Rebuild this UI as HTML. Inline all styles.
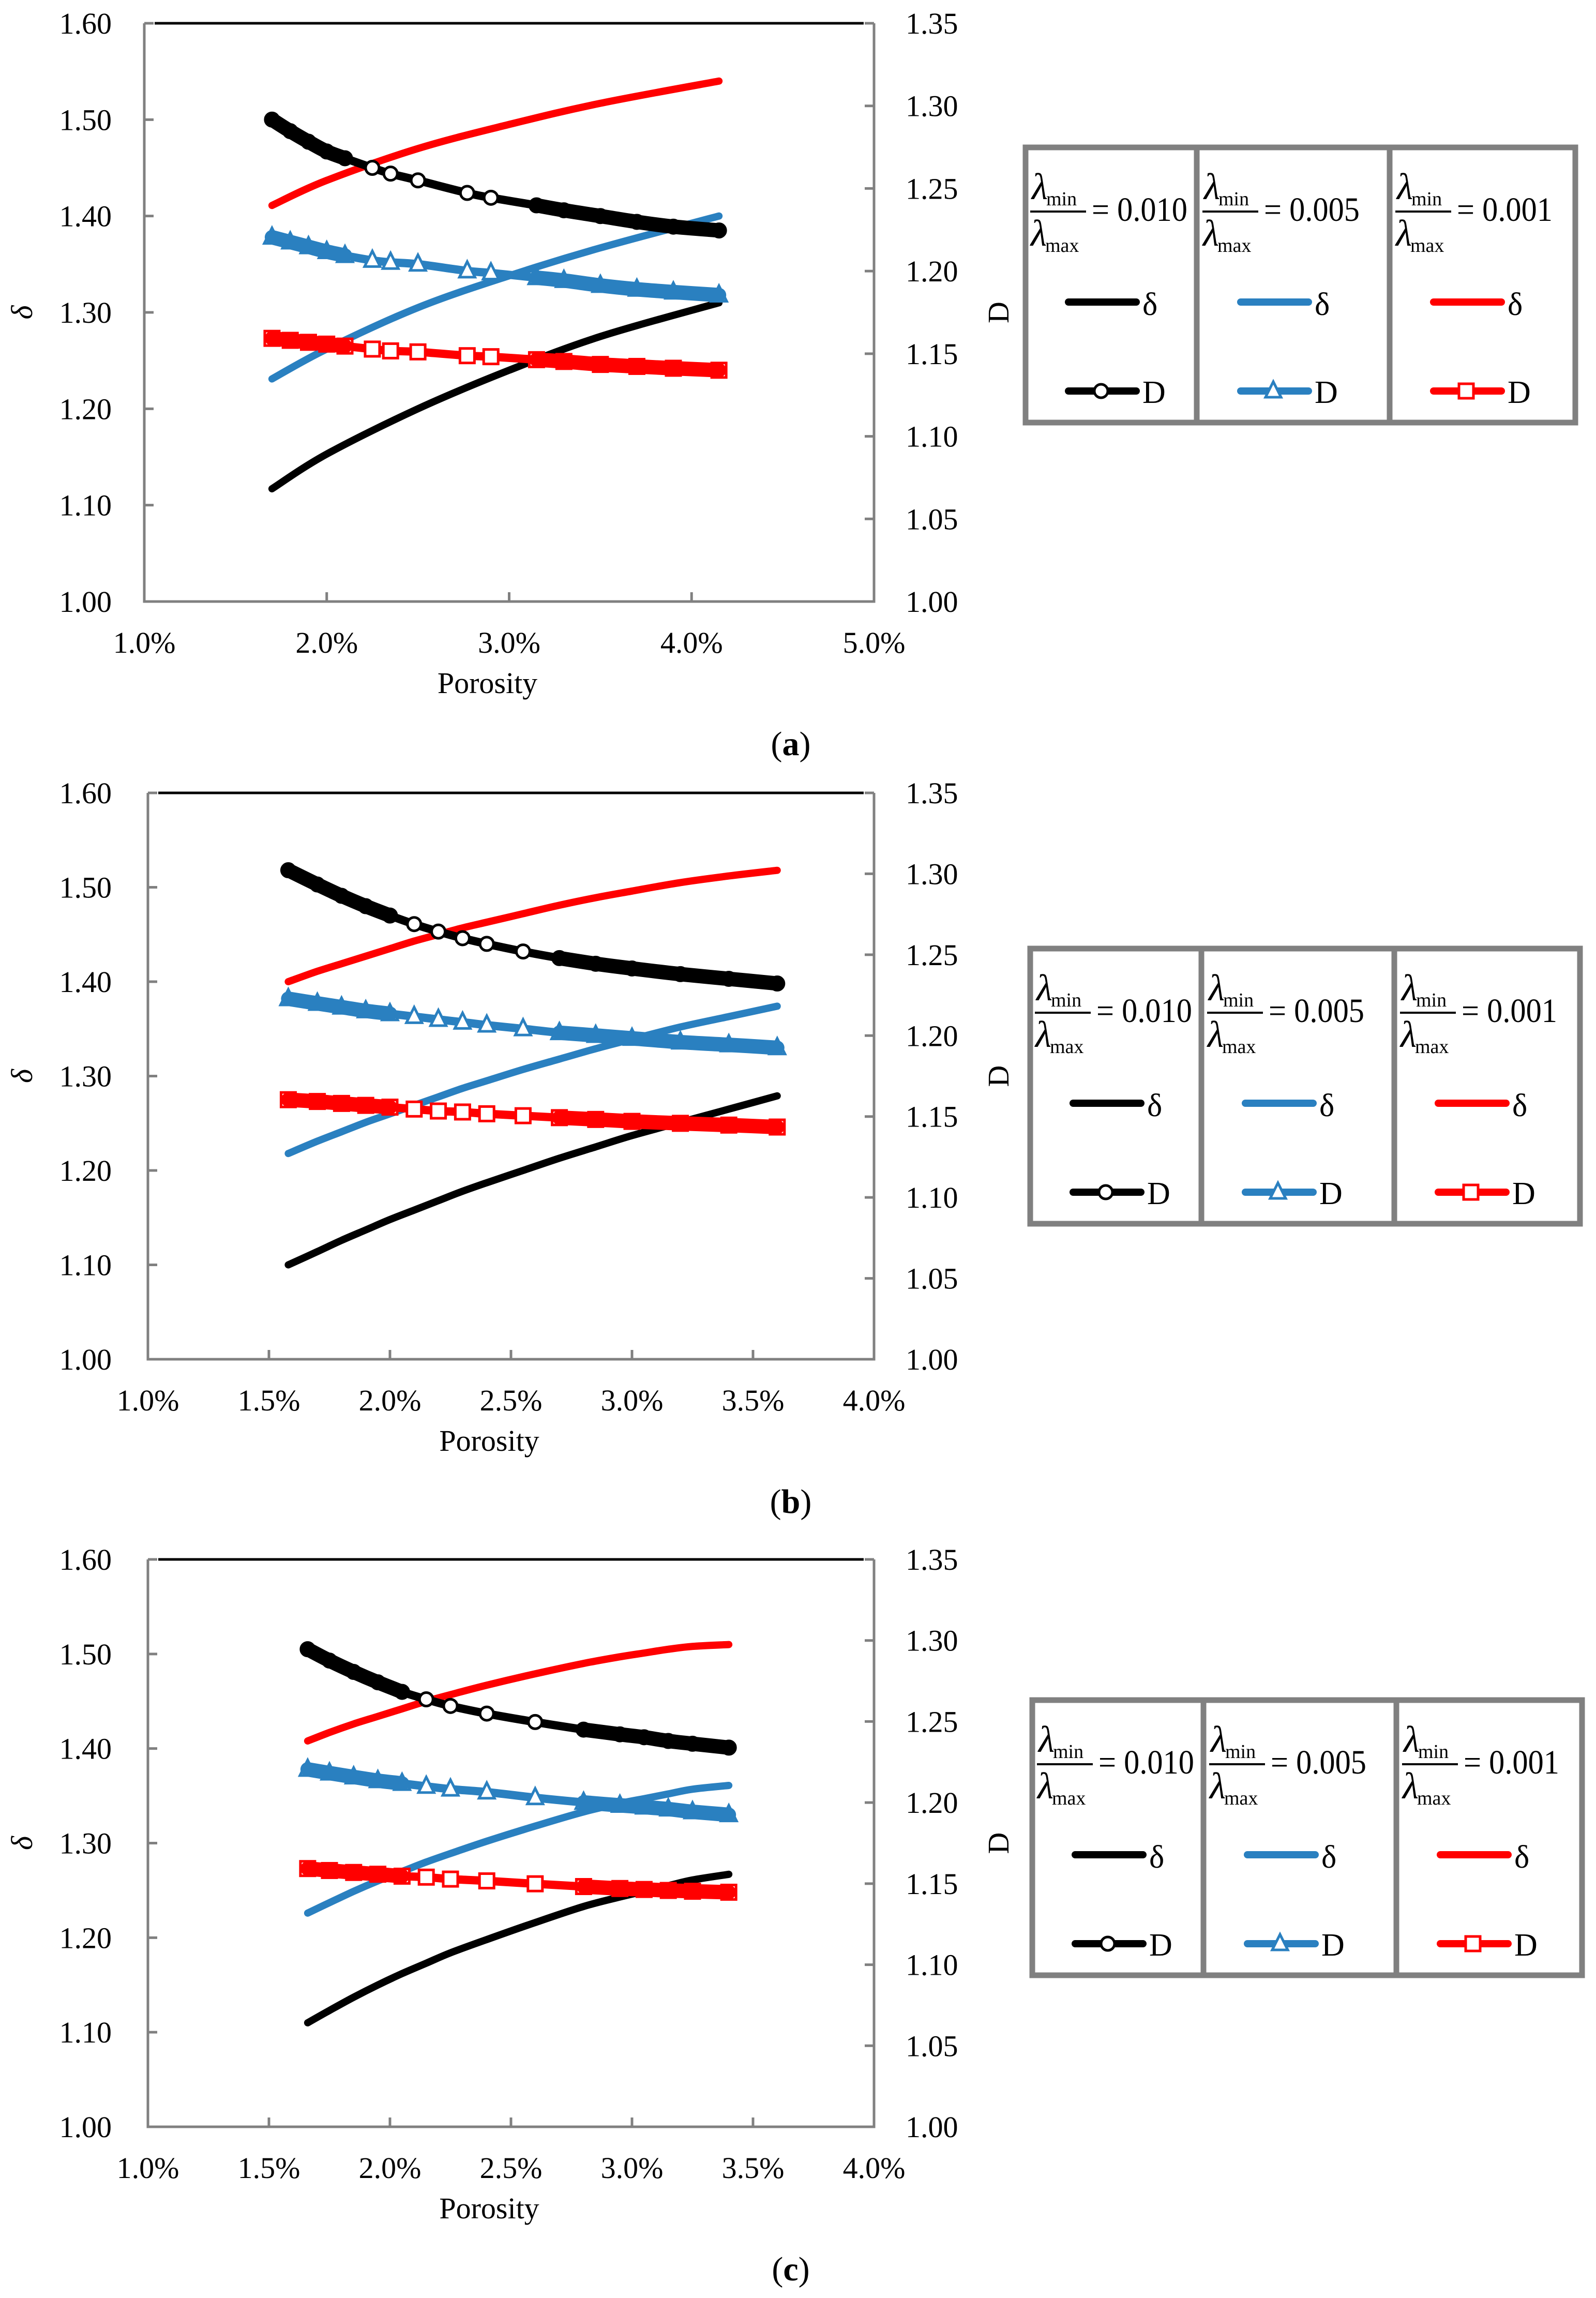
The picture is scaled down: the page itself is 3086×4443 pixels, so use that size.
<!DOCTYPE html>
<html><head><meta charset="utf-8">
<style>
html,body{margin:0;padding:0;background:#fff;}
svg{display:block;font-family:"Liberation Serif",serif;}
</style></head>
<body>
<svg id="fig" width="3086" height="4443" viewBox="0 0 3086 4443" xmlns="http://www.w3.org/2000/svg"></svg>
<script>
// ---------- Panel (a) data ----------
const xA_delta = [1.7, 2.0, 2.5, 3.0, 3.5, 4.15];
const a_delta_black = [1.117, 1.153, 1.200, 1.240, 1.275, 1.310];
const a_delta_blue  = [1.231, 1.262, 1.305, 1.338, 1.367, 1.400];
const a_delta_red   = [1.411, 1.437, 1.470, 1.495, 1.517, 1.540];
const xA_D = [1.7,1.8,1.9,2.0,2.1,2.25,2.35,2.5,2.77,2.9,3.15,3.3,3.5,3.7,3.9,4.15];
const a_D_black = [1.2917,1.2847,1.2783,1.2724,1.2683,1.2625,1.2590,1.2549,1.2473,1.2444,1.2398,1.2368,1.2333,1.2298,1.2269,1.2246];
const a_D_blue  = [1.2205,1.2176,1.2147,1.2118,1.2094,1.2065,1.2053,1.2042,1.2001,1.1989,1.1960,1.1943,1.1913,1.1890,1.1873,1.1855];
const a_D_red   = [1.1593,1.1581,1.1569,1.1558,1.1546,1.1528,1.1517,1.1511,1.1488,1.1482,1.1464,1.1453,1.1435,1.1423,1.1412,1.1400];
const a_xticks = [1.0, 2.0, 3.0, 4.0, 5.0];
const a_xlabels = ["1.0%","2.0%","3.0%","4.0%","5.0%"];

// ---------- Panel (b) data ----------
const xB = [1.58,1.7,1.8,1.9,2.0,2.1,2.2,2.3,2.4,2.55,2.7,2.85,3.0,3.2,3.4,3.6];
const b_delta_black = [1.100,1.114,1.126,1.137,1.148,1.158,1.168,1.178,1.187,1.200,1.213,1.225,1.237,1.251,1.265,1.279];
const b_delta_blue  = [1.218,1.231,1.241,1.251,1.260,1.269,1.278,1.287,1.295,1.307,1.318,1.329,1.339,1.352,1.363,1.374];
const b_delta_red   = [1.400,1.411,1.419,1.427,1.435,1.443,1.450,1.457,1.463,1.472,1.481,1.489,1.496,1.505,1.512,1.518];
const b_D_black = [1.3022,1.2934,1.2864,1.2800,1.2742,1.2689,1.2643,1.2602,1.2567,1.2520,1.2479,1.2444,1.2415,1.2380,1.2351,1.2322];
const b_D_blue  = [1.2228,1.2199,1.2176,1.2153,1.2135,1.2118,1.2100,1.2083,1.2065,1.2042,1.2018,1.2001,1.1983,1.1960,1.1943,1.1925];
const b_D_red   = [1.1604,1.1593,1.1581,1.1569,1.1558,1.1546,1.1534,1.1528,1.1517,1.1505,1.1493,1.1482,1.1470,1.1458,1.1447,1.1435];
const b_xticks = [1.0,1.5,2.0,2.5,3.0,3.5,4.0];
const b_xlabels = ["1.0%","1.5%","2.0%","2.5%","3.0%","3.5%","4.0%"];

// ---------- Panel (c) data ----------
const xC = [1.66,1.75,1.85,1.95,2.05,2.15,2.25,2.4,2.6,2.8,2.95,3.05,3.15,3.25,3.4];
const c_delta_black = [1.110,1.123,1.137,1.150,1.162,1.173,1.184,1.198,1.216,1.233,1.243,1.249,1.255,1.261,1.267];
const c_delta_blue  = [1.226,1.237,1.249,1.260,1.270,1.280,1.289,1.302,1.318,1.333,1.342,1.347,1.352,1.357,1.361];
const c_delta_red   = [1.408,1.417,1.426,1.434,1.442,1.450,1.457,1.467,1.479,1.490,1.497,1.501,1.505,1.508,1.510];
const c_D_black = [1.2946,1.2876,1.2806,1.2742,1.2683,1.2637,1.2596,1.2549,1.2497,1.2450,1.2421,1.2403,1.2380,1.2363,1.2339];
const c_D_blue  = [1.2205,1.2182,1.2158,1.2135,1.2118,1.2100,1.2083,1.2065,1.2030,1.2001,1.1983,1.1972,1.1960,1.1943,1.1925];
const c_D_red   = [1.1593,1.1581,1.1569,1.1558,1.1546,1.1540,1.1528,1.1517,1.1499,1.1482,1.1470,1.1464,1.1458,1.1453,1.1447];
const c_xticks = b_xticks;
const c_xlabels = b_xlabels;

const leftTicks = [1.00,1.10,1.20,1.30,1.40,1.50,1.60];
const rightTicks = [1.00,1.05,1.10,1.15,1.20,1.25,1.30,1.35];
const legendRatios = ["0.010","0.005","0.001"];

const NS = "http://www.w3.org/2000/svg";
const svg = document.getElementById('fig');
const BLACK="#000000", BLUE="#2a80c0", RED="#ff0000", GRAY="#808080";

function mk(tag, attrs, parent){
  const e=document.createElementNS(NS,tag);
  for(const k in attrs) e.setAttribute(k,attrs[k]);
  (parent||svg).appendChild(e);
  return e;
}
function txt(s, x, y, size, anchor, parent, extra){
  const t=mk('text',Object.assign({x:x,y:y,'font-size':size,'text-anchor':anchor||'start',fill:'#000'},extra||{}),parent);
  t.textContent=s;
  return t;
}
function smooth(pts){
  let d='M'+pts[0][0].toFixed(1)+','+pts[0][1].toFixed(1);
  for(let i=0;i<pts.length-1;i++){
    const p0=pts[Math.max(0,i-1)],p1=pts[i],p2=pts[i+1],p3=pts[Math.min(pts.length-1,i+2)];
    const c1x=p1[0]+(p2[0]-p0[0])/6,c1y=p1[1]+(p2[1]-p0[1])/6;
    const c2x=p2[0]-(p3[0]-p1[0])/6,c2y=p2[1]-(p3[1]-p1[1])/6;
    d+=` C${c1x.toFixed(1)},${c1y.toFixed(1)} ${c2x.toFixed(1)},${c2y.toFixed(1)} ${p2[0].toFixed(1)},${p2[1].toFixed(1)}`;
  }
  return d;
}

function marker(g, type, color, x, y){
  let m;
  if(type==='circle'){
    m=mk('circle',{cx:x,cy:y,r:13,fill:'#fff',stroke:color,'stroke-width':5},g);
  } else if(type==='tri'){
    m=mk('polygon',{points:`${x},${y-18} ${x-15},${y+12} ${x+15},${y+12}`,fill:'#fff',stroke:color,'stroke-width':5},g);
  } else {
    m=mk('rect',{x:x-14,y:y-14,width:28,height:28,fill:'#fff',stroke:color,'stroke-width':5},g);
  }
  return m;
}

function drawPanel(p){
  const g=mk('g',{});
  
  
  const L=p.L,R=p.R,T=p.T,B=p.B;
  const sx=v=>L+(v-p.xmin)/(p.xmax-p.xmin)*(R-L);
  const syL=v=>B-(v-1.0)/0.6*(B-T);
  const syR=v=>B-(v-1.0)/0.35*(B-T);

  const top=mk('line',{x1:L+20,y1:T,x2:R-20,y2:T,stroke:'#000','stroke-width':5},g);
  
  
  const fr=mk('path',{d:`M${L},${T} L${L},${B} L${R},${B} L${R},${T}`,fill:'none',stroke:GRAY,'stroke-width':5},g);
  
  

  leftTicks.forEach(v=>{
    const y=syL(v);
    mk('line',{x1:L,y1:y,x2:L+18,y2:y,stroke:GRAY,'stroke-width':5},g);
    const t=txt(v.toFixed(2),216,y+20,58,'end',g);
    
    
  });
  rightTicks.forEach(v=>{
    const y=syR(v);
    mk('line',{x1:R-18,y1:y,x2:R,y2:y,stroke:GRAY,'stroke-width':5},g);
    const t=txt(v.toFixed(2),1751,y+20,58,'start',g);
    
    
  });
  p.xticks.forEach((v,i)=>{
    const x=sx(v);
    mk('line',{x1:x,y1:B,x2:x,y2:B-18,stroke:GRAY,'stroke-width':5},g);
    const t=txt(p.xlabels[i],x,B+99,58,'middle',g);
    
    
  });
  const xt=txt('Porosity',(L+R)/2-42,B+177,58,'middle',g);
  
  
  const ly=txt('δ',0,0,58,'middle',g,{transform:`translate(62,${(T+B)/2}) rotate(-90)`,'font-style':'italic'});
  
  
  const ry=txt('D',0,0,58,'middle',g,{transform:`translate(1950,${(T+B)/2}) rotate(-90)`});
  
  
  const cap=mk('text',{x:1529,y:B+297,'font-size':66,'text-anchor':'middle',fill:'#000'},g);
  cap.innerHTML='(<tspan font-weight="bold">'+p.letter+'</tspan>)';
  
  

  p.delta.forEach(s=>{
    const pts=s.xs.map((x,i)=>[sx(x),syL(s.ys[i])]);
    const pth=mk('path',{d:smooth(pts),fill:'none',stroke:s.color,'stroke-width':14,'stroke-linecap':'round','stroke-linejoin':'round'},g);
    
    
  });
  p.D.forEach(s=>{
    const pts=s.xs.map((x,i)=>[sx(x),syR(s.ys[i])]);
    const pth=mk('path',{d:smooth(pts),fill:'none',stroke:s.color,'stroke-width':16,'stroke-linecap':'round','stroke-linejoin':'round'},g);
    
    
    pts.forEach(q=>{
      const m=marker(g,s.marker,s.color,q[0],q[1]);
      
      
    });
    const h=mk('path',{d:smooth(pts.slice(0,5)),fill:'none',stroke:s.color,'stroke-width':28,'stroke-linecap':'round'},g);
    
    
    const tl=mk('path',{d:smooth(pts.slice(-6)),fill:'none',stroke:s.color,'stroke-width':28,'stroke-linecap':'round'},g);
    
    
  });

  const lg=mk('g',{},g);
  
  
  const bx=p.lgX, by=p.lgY, bw=1063, bh=532;
  const box=mk('rect',{x:bx,y:by,width:bw,height:bh,fill:'#fff',stroke:GRAY,'stroke-width':11},lg);
  
  
  const cols=[bx, bx+331, bx+704, bx+bw];
  [1,2].forEach(i=>{
    const dv=mk('line',{x1:cols[i],y1:by,x2:cols[i],y2:by+bh,stroke:GRAY,'stroke-width':11},lg);
    
    
  });
  const cc=[BLACK,BLUE,RED], mt=['circle','tri','square'];
  [0,1,2].forEach(i=>{
    const cx=cols[i]+ (i===0?0:2);
    const e=mk('g',{},lg);
    
    
    txt('λ',cx+12,by+100,72,'start',e,{'font-style':'italic'});
    txt('min',cx+40,by+112,38,'start',e);
    mk('line',{x1:cx+9,y1:by+124,x2:cx+117,y2:by+124,stroke:'#000','stroke-width':4},e);
    txt('λ',cx+10,by+190,72,'start',e,{'font-style':'italic'});
    txt('max',cx+38,by+202,38,'start',e);
    txt('= '+legendRatios[i],cx+128,by+142,66,'start',e,{'textLength':185,'lengthAdjust':'spacingAndGlyphs'});
    mk('line',{x1:cx+83,y1:by+299,x2:cx+214,y2:by+299,stroke:cc[i],'stroke-width':14,'stroke-linecap':'round'},e);
    txt('δ',cx+226,by+324,62,'start',e);
    mk('line',{x1:cx+83,y1:by+471,x2:cx+214,y2:by+471,stroke:cc[i],'stroke-width':14,'stroke-linecap':'round'},e);
    marker(e,mt[i],cc[i],cx+146,by+471);
    txt('D',cx+226,by+494,62,'start',e);
  });
}

drawPanel({name:'panel-a',letter:'a',L:279,R:1690,T:45,B:1163,xmin:1.0,xmax:5.0,
  xticks:a_xticks,xlabels:a_xlabels,lgX:1983,lgY:285,
  delta:[{name:'a-delta-0.010',xs:xA_delta,ys:a_delta_black,color:BLACK},
         {name:'a-delta-0.005',xs:xA_delta,ys:a_delta_blue,color:BLUE},
         {name:'a-delta-0.001',xs:xA_delta,ys:a_delta_red,color:RED}],
  D:[{name:'a-D-0.010',xs:xA_D,ys:a_D_black,color:BLACK,marker:'circle'},
     {name:'a-D-0.005',xs:xA_D,ys:a_D_blue,color:BLUE,marker:'tri'},
     {name:'a-D-0.001',xs:xA_D,ys:a_D_red,color:RED,marker:'square'}]});

drawPanel({name:'panel-b',letter:'b',L:286,R:1690,T:1533,B:2628,xmin:1.0,xmax:4.0,
  xticks:b_xticks,xlabels:b_xlabels,lgX:1992,lgY:1834,
  delta:[{name:'b-delta-0.010',xs:xB,ys:b_delta_black,color:BLACK},
         {name:'b-delta-0.005',xs:xB,ys:b_delta_blue,color:BLUE},
         {name:'b-delta-0.001',xs:xB,ys:b_delta_red,color:RED}],
  D:[{name:'b-D-0.010',xs:xB,ys:b_D_black,color:BLACK,marker:'circle'},
     {name:'b-D-0.005',xs:xB,ys:b_D_blue,color:BLUE,marker:'tri'},
     {name:'b-D-0.001',xs:xB,ys:b_D_red,color:RED,marker:'square'}]});

drawPanel({name:'panel-c',letter:'c',L:286,R:1690,T:3015,B:4112,xmin:1.0,xmax:4.0,
  xticks:c_xticks,xlabels:c_xlabels,lgX:1996,lgY:3287,
  delta:[{name:'c-delta-0.010',xs:xC,ys:c_delta_black,color:BLACK},
         {name:'c-delta-0.005',xs:xC,ys:c_delta_blue,color:BLUE},
         {name:'c-delta-0.001',xs:xC,ys:c_delta_red,color:RED}],
  D:[{name:'c-D-0.010',xs:xC,ys:c_D_black,color:BLACK,marker:'circle'},
     {name:'c-D-0.005',xs:xC,ys:c_D_blue,color:BLUE,marker:'tri'},
     {name:'c-D-0.001',xs:xC,ys:c_D_red,color:RED,marker:'square'}]});
</script>
</body></html>
